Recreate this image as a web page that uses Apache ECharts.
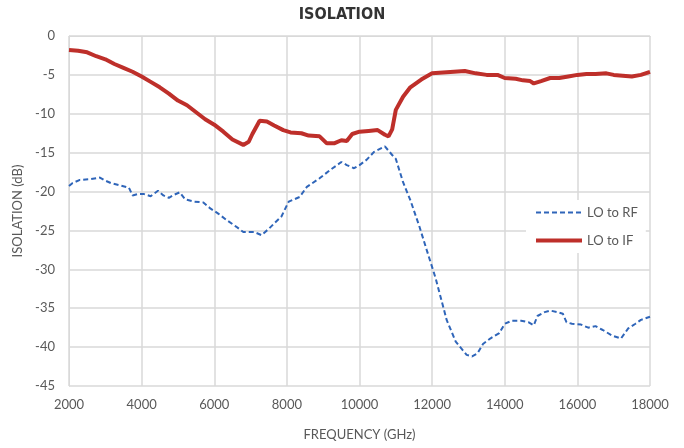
<!DOCTYPE html>
<html>
<head>
<meta charset="utf-8">
<script src="https://cdn.jsdelivr.net/npm/echarts@6/dist/echarts.min.js"></script>
<style>
  html, body { margin: 0; padding: 0; background: #fff; }
  #main { width: 684px; height: 448px; }
</style>
</head>
<body>
<div id="main"></div>
<script>
// 频率 (MHz) 与隔离度 (dB)
var ifFreq = [2000,2250,2500,2750,3000,3250,3500,3750,4000,4250,4500,4750,5000,5250,5500,5750,
              6000,6250,6500,6800,6950,7050,7250,7450,7650,7900,8100,8400,8600,8900,9100,9300,
              9500,9650,9800,10000,10250,10500,10700,10800,10900,11000,11200,11400,11700,12000,
              12300,12600,12900,13200,13500,13800,14000,14300,14500,14700,14800,15000,15250,
              15500,15750,16000,16250,16500,16800,17000,17250,17500,17750,18000];
var ifVals = [-1.8,-1.9,-2.1,-2.6,-3.0,-3.6,-4.1,-4.6,-5.2,-5.9,-6.6,-7.4,-8.3,-8.9,-9.8,-10.7,
              -11.4,-12.3,-13.3,-14.0,-13.6,-12.6,-10.9,-11.0,-11.5,-12.1,-12.4,-12.5,-12.8,-12.9,-13.8,-13.8,
              -13.4,-13.5,-12.6,-12.3,-12.2,-12.1,-12.7,-12.9,-12.0,-9.5,-7.8,-6.6,-5.6,-4.8,
              -4.7,-4.6,-4.5,-4.8,-5.0,-5.0,-5.4,-5.5,-5.7,-5.8,-6.1,-5.8,-5.4,
              -5.4,-5.2,-5.0,-4.9,-4.9,-4.8,-5.0,-5.1,-5.2,-5.0,-4.6];

var rfFreq = [2000,2100,2300,2600,2850,3000,3150,3400,3650,3750,3900,4050,4250,4450,4600,4750,
              4900,5050,5200,5450,5700,5900,6100,6350,6600,6800,7100,7300,7500,7650,7850,8050,
              8350,8550,8900,9200,9500,9650,9850,10000,10200,10400,10700,10900,11000,11200,11400,
              11650,11850,12100,12400,12650,12950,13100,13250,13400,13600,13850,14000,14200,14450,
              14650,14800,14900,15100,15250,15450,15600,15700,15850,16100,16300,16500,16700,16950,
              17200,17400,17600,17750,18000];
var rfVals = [-19.3,-18.9,-18.5,-18.4,-18.2,-18.6,-18.9,-19.2,-19.5,-20.5,-20.3,-20.3,-20.6,-19.9,-20.5,-20.8,
              -20.4,-20.1,-21.0,-21.3,-21.4,-22.2,-22.8,-23.7,-24.5,-25.2,-25.2,-25.6,-24.8,-24.1,-23.2,-21.3,
              -20.7,-19.4,-18.3,-17.2,-16.2,-16.6,-17.0,-16.6,-15.9,-14.9,-14.2,-15.3,-15.8,-18.8,-21.1,
              -24.5,-27.5,-31.2,-36.5,-39.3,-41.0,-41.2,-40.8,-39.6,-38.9,-38.2,-37.0,-36.6,-36.6,
              -36.8,-37.2,-36.0,-35.5,-35.3,-35.5,-35.7,-36.8,-37.0,-37.1,-37.5,-37.3,-37.8,-38.5,
              -38.9,-37.6,-37.0,-36.5,-36.1];

function pairs(xs, ys) {
    var out = [];
    for (var i = 0; i < xs.length; i++) out.push([xs[i], ys[i]]);
    return out;
}

var labelColor = '#595959';
var gridColor = '#d9d9d9';

var option = {
    animation: false,
    backgroundColor: '#fff',
    title: {
        text: 'ISOLATION',
        left: 'center',
        top: 2,
        textStyle: { fontFamily: 'DejaVu Sans Condensed', fontWeight: 'bold', fontSize: 16, color: '#333' }
    },
    legend: {
        orient: 'vertical',
        left: 526,
        top: 200,
        itemWidth: 46,
        itemHeight: 14,
        itemGap: 15,
        padding: [6, 8],
        backgroundColor: '#fff',
        itemStyle: { opacity: 0 },
        textStyle: { fontFamily: 'Lato', fontSize: 13, color: labelColor },
        data: [
            { name: 'LO to RF', lineStyle: { width: 2 } },
            { name: 'LO to IF', lineStyle: { width: 4 } }
        ]
    },
    grid: { left: 69, right: 34, top: 36, bottom: 62 },
    xAxis: {
        type: 'value',
        min: 2000, max: 18000, interval: 2000,
        name: 'FREQUENCY (GHz)',
        nameLocation: 'middle',
        nameGap: 42,
        nameTextStyle: { fontFamily: 'Lato', fontSize: 13, color: labelColor },
        axisLine: { lineStyle: { color: gridColor } },
        axisTick: { show: false },
        axisLabel: {
            fontFamily: 'Lato', fontSize: 13, color: labelColor, margin: 12,
            formatter: function (v) { return String(v); }
        },
        splitLine: { show: true, lineStyle: { color: gridColor, width: 1.5 } }
    },
    yAxis: {
        type: 'value',
        min: -45, max: 0, interval: 5,
        name: 'ISOLATION (dB)',
        nameLocation: 'middle',
        nameGap: 42,
        nameTextStyle: { fontFamily: 'Lato', fontSize: 13, color: labelColor },
        axisLine: { show: true, lineStyle: { color: gridColor } },
        axisTick: { show: false },
        axisLabel: { fontFamily: 'Lato', fontSize: 13, color: labelColor, margin: 14 },
        splitLine: { show: true, lineStyle: { color: gridColor, width: 1.5 } }
    },
    series: [{
        name: 'LO to RF',
        type: 'line',
        symbol: 'none',
        smooth: false,
        lineStyle: { color: '#2f65b9', width: 2, type: [5, 3] },
        itemStyle: { color: '#2f65b9' },
        data: pairs(rfFreq, rfVals)
    }, {
        name: 'LO to IF',
        type: 'line',
        symbol: 'none',
        smooth: false,
        lineStyle: { color: '#be2f2a', width: 4 },
        itemStyle: { color: '#be2f2a' },
        data: pairs(ifFreq, ifVals)
    }]
};

var myChart = echarts.init(document.getElementById('main'));
myChart.setOption(option);
</script>
</body>
</html>
